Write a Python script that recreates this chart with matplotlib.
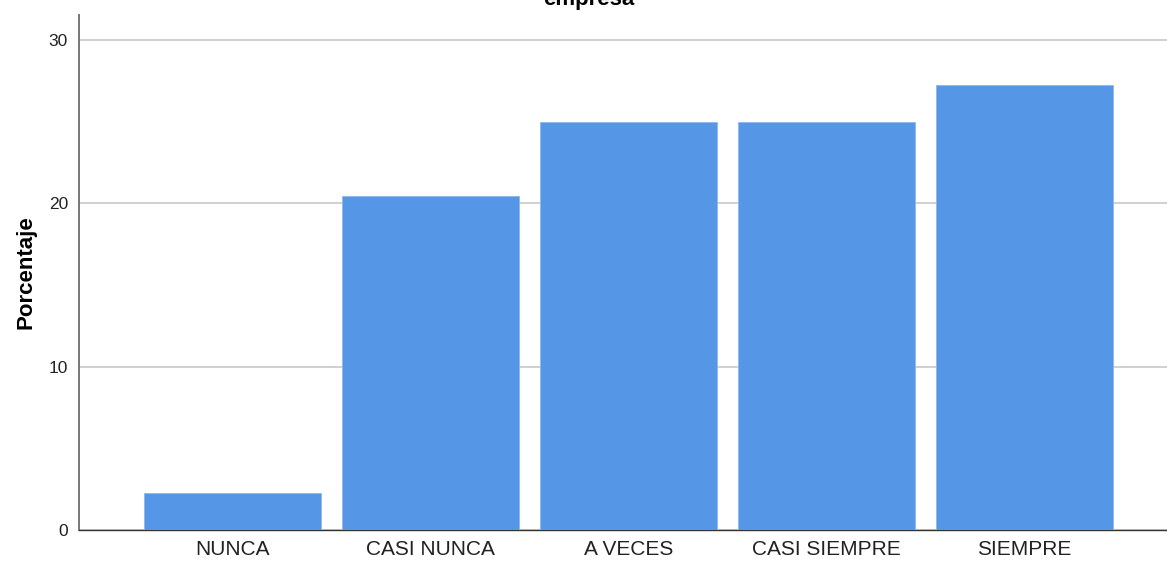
import matplotlib
matplotlib.use("Agg")
import matplotlib.pyplot as plt

categories = ["NUNCA", "CASI NUNCA", "A VECES", "CASI SIEMPRE", "SIEMPRE"]
porcentaje = [2.27, 20.45, 25.0, 25.0, 27.27]
yticks = [0, 10, 20, 30]

plt.rcParams['font.family'] = ['Liberation Sans', 'DejaVu Sans']

fig = plt.figure(figsize=(11.67, 5.63), dpi=100)
ax = fig.add_axes([79/1167, 33/563, 1 - 79/1167, (530-15)/563])

x = list(range(len(categories)))
ax.bar(x, porcentaje, width=0.894, color="#5596E6", edgecolor="#8fb8ee", linewidth=0.6, zorder=3)

ax.set_xlim(-0.775, 4.72)
ax.set_ylim(0, 31.53)
ax.set_yticks(yticks)
ax.set_xticks(x)
ax.set_xticklabels(categories, fontsize=15, color="#222222")
ax.tick_params(axis='y', length=0, labelsize=12.5, pad=8, colors="#222222")
ax.tick_params(axis='x', length=0, pad=7)
ax.yaxis.grid(True, color="#c8c8c8", linewidth=1.2, zorder=0)
ax.set_axisbelow(True)

for s in ["top", "right"]:
    ax.spines[s].set_visible(False)
ax.spines["left"].set_color("#777777")
ax.spines["left"].set_linewidth(1.4)
ax.spines["bottom"].set_color("#333333")
ax.spines["bottom"].set_linewidth(1.0)

ax.set_ylabel("Porcentaje", fontsize=16, fontweight="bold", labelpad=9)

fig.text(589/1167, 1 - 5/563, "empresa", ha="center", va="baseline", fontsize=16, fontweight="bold")

fig.savefig("out.png", dpi=100)
